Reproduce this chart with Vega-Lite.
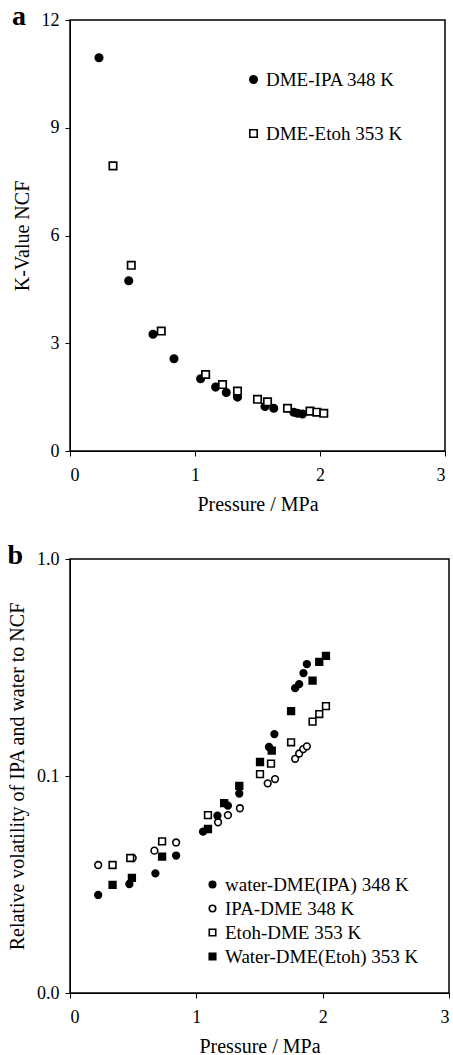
{
  "$schema": "https://vega.github.io/schema/vega-lite/v6.json",
  "padding": {"left": 6, "top": 2, "right": 0, "bottom": 0},
  "spacing": 26,
  "resolve": {"scale": {"shape": "independent", "fill": "independent", "stroke": "independent"}, "legend": {"shape": "independent", "fill": "independent", "stroke": "independent"}},
  "config": {
    "font": "Liberation Serif",
    "view": {"stroke": "black", "strokeWidth": 1.5},
    "axis": {
      "grid": false,
      "domainColor": "black",
      "tickColor": "black",
      "tickSize": 5,
      "labelColor": "black",
      "titleColor": "black",
      "labelFont": "Liberation Serif",
      "titleFont": "Liberation Serif",
      "labelFontSize": 18,
      "titleFontSize": 20,
      "titleFontWeight": "normal"
    },
    "axisX": {"labelPadding": 10, "titlePadding": 10},
    "axisY": {"labelPadding": 6, "titlePadding": 9},
    "legend": {
      "labelFont": "Liberation Serif",
      "labelFontSize": 19,
      "labelColor": "black",
      "symbolStrokeColor": "black",
      "symbolStrokeWidth": 1.6,
      "labelOffset": 3,
      "labelLimit": 300
    },
    "title": {"font": "Liberation Serif", "fontSize": 28, "fontWeight": "bold", "color": "black"}
  },
  "datasets": {
    "ka": [
      {"pressure": 0.232, "k": 10.95, "series": "DME-IPA 348 K"},
      {"pressure": 0.47, "k": 4.74, "series": "DME-IPA 348 K"},
      {"pressure": 0.664, "k": 3.25, "series": "DME-IPA 348 K"},
      {"pressure": 0.832, "k": 2.57, "series": "DME-IPA 348 K"},
      {"pressure": 1.045, "k": 2.01, "series": "DME-IPA 348 K"},
      {"pressure": 1.165, "k": 1.78, "series": "DME-IPA 348 K"},
      {"pressure": 1.25, "k": 1.63, "series": "DME-IPA 348 K"},
      {"pressure": 1.34, "k": 1.5, "series": "DME-IPA 348 K"},
      {"pressure": 1.56, "k": 1.24, "series": "DME-IPA 348 K"},
      {"pressure": 1.63, "k": 1.19, "series": "DME-IPA 348 K"},
      {"pressure": 1.79, "k": 1.08, "series": "DME-IPA 348 K"},
      {"pressure": 1.82, "k": 1.05, "series": "DME-IPA 348 K"},
      {"pressure": 1.86, "k": 1.03, "series": "DME-IPA 348 K"},
      {"pressure": 0.344, "k": 7.94, "series": "DME-Etoh 353 K"},
      {"pressure": 0.49, "k": 5.17, "series": "DME-Etoh 353 K"},
      {"pressure": 0.73, "k": 3.34, "series": "DME-Etoh 353 K"},
      {"pressure": 1.085, "k": 2.13, "series": "DME-Etoh 353 K"},
      {"pressure": 1.22, "k": 1.85, "series": "DME-Etoh 353 K"},
      {"pressure": 1.34, "k": 1.67, "series": "DME-Etoh 353 K"},
      {"pressure": 1.5, "k": 1.44, "series": "DME-Etoh 353 K"},
      {"pressure": 1.58, "k": 1.37, "series": "DME-Etoh 353 K"},
      {"pressure": 1.74, "k": 1.19, "series": "DME-Etoh 353 K"},
      {"pressure": 1.92, "k": 1.11, "series": "DME-Etoh 353 K"},
      {"pressure": 1.975, "k": 1.08, "series": "DME-Etoh 353 K"},
      {"pressure": 2.03, "k": 1.05, "series": "DME-Etoh 353 K"}
    ],
    "rv": [
      {"pressure": 0.223, "rv": 0.0389, "series": "IPA-DME 348 K"},
      {"pressure": 0.496, "rv": 0.0419, "series": "IPA-DME 348 K"},
      {"pressure": 0.668, "rv": 0.0453, "series": "IPA-DME 348 K"},
      {"pressure": 0.84, "rv": 0.0494, "series": "IPA-DME 348 K"},
      {"pressure": 1.172, "rv": 0.0612, "series": "IPA-DME 348 K"},
      {"pressure": 1.25, "rv": 0.066, "series": "IPA-DME 348 K"},
      {"pressure": 1.345, "rv": 0.071, "series": "IPA-DME 348 K"},
      {"pressure": 1.565, "rv": 0.0925, "series": "IPA-DME 348 K"},
      {"pressure": 1.623, "rv": 0.0968, "series": "IPA-DME 348 K"},
      {"pressure": 1.782, "rv": 0.12, "series": "IPA-DME 348 K"},
      {"pressure": 1.814, "rv": 0.127, "series": "IPA-DME 348 K"},
      {"pressure": 1.846, "rv": 0.133, "series": "IPA-DME 348 K"},
      {"pressure": 1.875, "rv": 0.137, "series": "IPA-DME 348 K"},
      {"pressure": 0.337, "rv": 0.0389, "series": "Etoh-DME 353 K"},
      {"pressure": 0.477, "rv": 0.0419, "series": "Etoh-DME 353 K"},
      {"pressure": 0.729, "rv": 0.05, "series": "Etoh-DME 353 K"},
      {"pressure": 1.092, "rv": 0.066, "series": "Etoh-DME 353 K"},
      {"pressure": 1.504, "rv": 0.102, "series": "Etoh-DME 353 K"},
      {"pressure": 1.591, "rv": 0.114, "series": "Etoh-DME 353 K"},
      {"pressure": 1.75, "rv": 0.143, "series": "Etoh-DME 353 K"},
      {"pressure": 1.92, "rv": 0.178, "series": "Etoh-DME 353 K"},
      {"pressure": 1.973, "rv": 0.193, "series": "Etoh-DME 353 K"},
      {"pressure": 2.026, "rv": 0.21, "series": "Etoh-DME 353 K"},
      {"pressure": 0.223, "rv": 0.0283, "series": "water-DME(IPA) 348 K"},
      {"pressure": 0.47, "rv": 0.0318, "series": "water-DME(IPA) 348 K"},
      {"pressure": 0.676, "rv": 0.0356, "series": "water-DME(IPA) 348 K"},
      {"pressure": 0.84, "rv": 0.043, "series": "water-DME(IPA) 348 K"},
      {"pressure": 1.053, "rv": 0.0554, "series": "water-DME(IPA) 348 K"},
      {"pressure": 1.167, "rv": 0.0656, "series": "water-DME(IPA) 348 K"},
      {"pressure": 1.25, "rv": 0.073, "series": "water-DME(IPA) 348 K"},
      {"pressure": 1.34, "rv": 0.083, "series": "water-DME(IPA) 348 K"},
      {"pressure": 1.575, "rv": 0.136, "series": "water-DME(IPA) 348 K"},
      {"pressure": 1.618, "rv": 0.156, "series": "water-DME(IPA) 348 K"},
      {"pressure": 1.782, "rv": 0.254, "series": "water-DME(IPA) 348 K"},
      {"pressure": 1.814, "rv": 0.265, "series": "water-DME(IPA) 348 K"},
      {"pressure": 1.848, "rv": 0.298, "series": "water-DME(IPA) 348 K"},
      {"pressure": 1.875, "rv": 0.328, "series": "water-DME(IPA) 348 K"},
      {"pressure": 0.337, "rv": 0.0315, "series": "Water-DME(Etoh) 353 K"},
      {"pressure": 0.49, "rv": 0.0339, "series": "Water-DME(Etoh) 353 K"},
      {"pressure": 0.729, "rv": 0.0425, "series": "Water-DME(Etoh) 353 K"},
      {"pressure": 1.092, "rv": 0.057, "series": "Water-DME(Etoh) 353 K"},
      {"pressure": 1.22, "rv": 0.075, "series": "Water-DME(Etoh) 353 K"},
      {"pressure": 1.34, "rv": 0.09, "series": "Water-DME(Etoh) 353 K"},
      {"pressure": 1.504, "rv": 0.116, "series": "Water-DME(Etoh) 353 K"},
      {"pressure": 1.597, "rv": 0.131, "series": "Water-DME(Etoh) 353 K"},
      {"pressure": 1.75, "rv": 0.199, "series": "Water-DME(Etoh) 353 K"},
      {"pressure": 1.92, "rv": 0.275, "series": "Water-DME(Etoh) 353 K"},
      {"pressure": 1.973, "rv": 0.336, "series": "Water-DME(Etoh) 353 K"},
      {"pressure": 2.026, "rv": 0.358, "series": "Water-DME(Etoh) 353 K"}
    ]
  },
  "vconcat": [
    {
      "title": {"text": "a", "anchor": "start", "frame": "bounds", "dy": 24},
      "width": 375,
      "height": 431,
      "data": {"name": "ka"},
      "mark": {"type": "point", "strokeWidth": 1.7, "opacity": 1, "size": 55},
      "encoding": {
        "x": {"field": "pressure", "type": "quantitative", "scale": {"domain": [0, 3]}, "axis": {"values": [0, 1, 2, 3], "title": "Pressure / MPa"}},
        "y": {"field": "k", "type": "quantitative", "scale": {"domain": [0, 12]}, "axis": {"values": [0, 3, 6, 9, 12], "title": "K-Value NCF"}},
        "shape": {"field": "series", "type": "nominal", "scale": {"domain": ["DME-IPA 348 K", "DME-Etoh 353 K"], "range": ["circle", "square"]},
          "legend": {"title": null, "orient": "none", "legendX": 174, "legendY": 50, "rowPadding": 34, "symbolSize": 55}},
        "fill": {"field": "series", "type": "nominal", "scale": {"domain": ["DME-IPA 348 K", "DME-Etoh 353 K"], "range": ["black", "white"]},
          "legend": {"title": null, "orient": "none", "legendX": 174, "legendY": 50, "rowPadding": 34, "symbolSize": 55}},
        "stroke": {"field": "series", "type": "nominal", "scale": {"domain": ["DME-IPA 348 K", "DME-Etoh 353 K"], "range": ["black", "black"]},
          "legend": {"title": null, "orient": "none", "legendX": 174, "legendY": 50, "rowPadding": 34, "symbolSize": 55}}
      }
    },
    {
      "title": {"text": "b", "anchor": "start", "frame": "bounds", "dy": 24},
      "width": 379,
      "height": 434,
      "data": {"name": "rv"},
      "mark": {"type": "point", "strokeWidth": 1.6, "opacity": 1, "size": 45},
      "encoding": {
        "x": {"field": "pressure", "type": "quantitative", "scale": {"domain": [0, 3]}, "axis": {"values": [0, 1, 2, 3], "title": "Pressure / MPa"}},
        "y": {"field": "rv", "type": "quantitative", "scale": {"type": "log", "domain": [0.01, 1]}, "axis": {"values": [0.01, 0.1, 1], "format": ".1f", "title": "Relative volatility of IPA and water to NCF"}},
        "shape": {"field": "series", "type": "nominal", "scale": {"domain": ["water-DME(IPA) 348 K", "IPA-DME 348 K", "Etoh-DME 353 K", "Water-DME(Etoh) 353 K"], "range": ["circle", "circle", "square", "square"]},
          "legend": {"title": null, "orient": "none", "legendX": 133, "legendY": 316, "rowPadding": 4, "symbolSize": 42}},
        "fill": {"field": "series", "type": "nominal", "scale": {"domain": ["water-DME(IPA) 348 K", "IPA-DME 348 K", "Etoh-DME 353 K", "Water-DME(Etoh) 353 K"], "range": ["black", "white", "white", "black"]},
          "legend": {"title": null, "orient": "none", "legendX": 133, "legendY": 316, "rowPadding": 4, "symbolSize": 42}},
        "stroke": {"field": "series", "type": "nominal", "scale": {"domain": ["water-DME(IPA) 348 K", "IPA-DME 348 K", "Etoh-DME 353 K", "Water-DME(Etoh) 353 K"], "range": ["black", "black", "black", "black"]},
          "legend": {"title": null, "orient": "none", "legendX": 133, "legendY": 316, "rowPadding": 4, "symbolSize": 42}}
      }
    }
  ]
}
